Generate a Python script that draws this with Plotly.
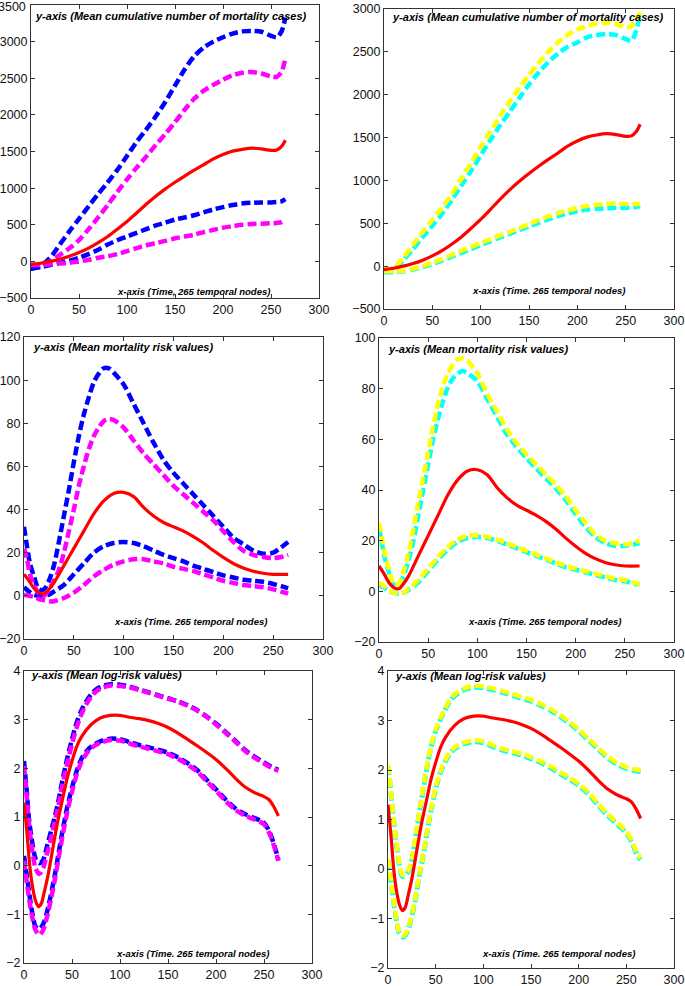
import plotly.graph_objects as go

W, H = 685, 986

# ---------------- data ----------------
# Panel row 1: mean cumulative number of mortality cases
t_cum = [0, 10, 20, 30, 40, 50, 60, 70, 80, 90, 100, 110, 120, 130, 140, 150, 160, 170, 180, 190,
         200, 210, 220, 230, 240, 250, 256, 261, 265]
red_cum = [-40, -25, 0, 30, 70, 120, 180, 255, 340, 440, 545, 660, 780, 890, 990, 1080, 1165, 1245, 1320,
           1400, 1460, 1505, 1530, 1545, 1535, 1515, 1520, 1570, 1655]
blue_up_cum = [-100, -60, 50, 230, 410, 580, 750, 920, 1080, 1250, 1440, 1630, 1800, 1980, 2180, 2400, 2620,
               2800, 2920, 3000, 3060, 3110, 3140, 3145, 3135, 3080, 3060, 3140, 3330]
pink_up_cum = [-50, -40, 0, 90, 180, 290, 440, 600, 770, 950, 1120, 1280, 1430, 1590, 1740, 1900, 2070, 2220,
               2330, 2410, 2480, 2540, 2575, 2585, 2565, 2525, 2520, 2590, 2770]
blue_lo_cum = [-100, -80, -50, -20, 10, 50, 100, 160, 230, 290, 340, 390, 440, 490, 530, 570, 600, 630, 670,
               710, 740, 770, 790, 800, 805, 805, 810, 820, 850]
pink_lo_cum = [-50, -50, -40, -30, -20, 0, 20, 50, 70, 100, 140, 180, 220, 250, 280, 315, 340, 365, 400, 430,
               460, 480, 500, 510, 515, 520, 525, 535, 565]
yel_up_cum = [-40, -20, 100, 250, 400, 540, 680, 840, 1020, 1200, 1390, 1570, 1750, 1920, 2080, 2230, 2370,
              2500, 2610, 2700, 2760, 2800, 2830, 2840, 2825, 2790, 2800, 2880, 2960]
cyan_up_cum = [-60, -40, 70, 200, 340, 470, 610, 770, 940, 1110, 1290, 1470, 1640, 1800, 1960, 2120, 2260,
               2380, 2480, 2560, 2610, 2670, 2695, 2705, 2695, 2650, 2630, 2750, 2950]
yel_lo_cum = [-60, -60, -55, -30, 0, 40, 85, 130, 180, 225, 270, 315, 360, 400, 445, 490, 540, 580, 620, 650,
              680, 700, 715, 725, 730, 725, 725, 725, 725]
cyan_lo_cum = [-70, -70, -60, -40, -10, 25, 65, 110, 155, 200, 245, 290, 335, 375, 420, 465, 505, 545, 585,
               615, 640, 660, 670, 675, 680, 680, 685, 690, 700]

# Panel row 2: mean mortality risk values
t_risk = [0, 5, 10, 15, 20, 25, 30, 40, 50, 60, 70, 80, 90, 100, 110, 120, 130, 140, 150, 160, 170, 180,
          190, 200, 210, 220, 230, 240, 250, 265]
red_risk = [10, 7, 3.5, 1.5, 1, 3, 6, 14, 22, 30, 38, 44, 47.5, 48, 46, 41, 37, 34, 32, 30, 27.5, 24.5, 21,
            17.8, 15, 12.9, 11.4, 10.5, 10, 10]
t_risk_up = [0, 3, 6, 10, 15, 20, 25, 30, 35, 40, 45, 50, 55, 60, 65, 70, 75, 80, 85, 90, 100, 110, 120,
             130, 140, 150, 160, 170, 180, 190, 200, 210, 220, 230, 240, 250, 258, 265]
blue_up_risk = [32, 23, 15, 9, 3, 3, 7, 14, 25, 37, 49, 62, 74, 84, 92, 99, 103, 105.5, 105.5, 103.5, 98,
                89, 80, 71, 63, 57, 52, 47, 42, 37, 32, 27, 24, 21, 19.5, 20, 22.5, 25]
pink_up_risk = [22, 17, 10, 5, 1, 0, 3, 7, 12, 20, 30, 40, 51, 60, 68, 74, 78, 81, 82, 81.5, 78, 72, 66,
                61, 56, 51, 47, 43, 39, 35, 30, 25, 21, 19, 18, 17.5, 18, 19]
yel_up_risk = [27, 21, 15, 9, 3, 3, 8, 15, 25, 35, 45, 55, 65, 74, 81, 86, 89.5, 91.5, 92, 91, 86, 78, 71,
               64, 58.5, 54, 50, 46, 42, 37.5, 32, 27, 22.5, 20, 19, 18.5, 19, 20]
cyan_up_risk = [25, 19, 13, 7.5, 2.5, 2.5, 6, 12, 20, 30, 40, 50, 60, 68, 75, 80.5, 84, 86, 87, 86, 83, 76,
                69, 62, 57, 52.5, 48.5, 44.5, 40.5, 36, 30.5, 25.5, 21.5, 19, 18, 18, 18.5, 19]
t_risk_lo = [0, 5, 10, 15, 20, 25, 30, 40, 50, 60, 70, 80, 90, 100, 110, 120, 130, 140, 150, 160, 170, 180,
             190, 200, 210, 220, 230, 240, 250, 258, 265]
blue_lo_risk = [4, 2, 0.5, 0, 0, 0.5, 2, 5, 10, 15, 20, 23, 24.5, 25, 24.5, 23, 21, 19, 17.5, 16, 14, 12.5,
                11, 9.5, 8.5, 7.5, 7, 6.5, 5.5, 4.5, 3.5]
pink_lo_risk = [0.5, 0, -0.5, -1.5, -2, -2.5, -2.5, -1, 1.5, 5, 9, 12, 14.5, 16, 17, 17, 16, 15, 13.5, 12.5,
                11.5, 10, 8.5, 7, 6, 5, 4.5, 4, 3, 2, 1]
yel_lo_risk = [3.5, 2, 0.5, -0.5, -1, -0.5, 1, 4.5, 9, 13.5, 17.5, 20.5, 22, 22, 21.5, 20.5, 19, 17.5, 16,
               14.5, 13, 11.5, 10, 9, 8, 7, 6, 5, 4.5, 3.5, 3]
cyan_lo_risk = [2.5, 1.5, 0, -0.5, -1, -0.5, 0.5, 3.5, 8, 12.5, 16.5, 19.5, 21, 21.5, 21, 20, 18.5, 17,
                15.5, 14, 12.5, 11, 9.5, 8.5, 7.5, 6.5, 5.5, 4.5, 4, 3.2, 2.8]

# Panel row 3: mean log-risk values
t_log = [0, 3, 6, 9, 12, 15, 18, 21, 25, 30, 35, 40, 45, 50, 55, 60, 70, 80, 90, 100, 110, 120, 130, 140,
         150, 160, 170, 180, 190, 200, 210, 220, 230, 240, 250, 255, 260, 265]
red_log = [1.3, 0.7, 0.0, -0.45, -0.72, -0.84, -0.78, -0.55, -0.2, 0.35, 0.9, 1.35, 1.8, 2.15, 2.45, 2.65,
           2.9, 3.04, 3.09, 3.09, 3.05, 3.02, 2.98, 2.92, 2.84, 2.73, 2.6, 2.47, 2.33, 2.18, 2.0, 1.8, 1.62,
           1.5, 1.42, 1.36, 1.22, 1.02]
t_log_up = [0, 3, 5, 8, 12, 16, 20, 24, 28, 32, 36, 40, 45, 50, 55, 60, 65, 70, 75, 80, 90, 100, 110, 120,
            130, 140, 150, 160, 170, 180, 190, 200, 210, 220, 230, 240, 250, 258, 265]
blue_up_log = [2.15, 1.5, 1.0, 0.55, 0.15, 0.05, 0.12, 0.4, 0.7, 1.0, 1.35, 1.75, 2.2, 2.6, 2.95, 3.2,
               3.38, 3.52, 3.62, 3.68, 3.73, 3.72, 3.68, 3.62, 3.56, 3.5, 3.44, 3.38, 3.3, 3.2, 3.07, 2.92,
               2.75, 2.57, 2.38, 2.24, 2.12, 2.03, 1.97]
pink_up_log = [2.05, 1.4, 0.9, 0.4, -0.05, -0.17, -0.05, 0.25, 0.55, 0.9, 1.25, 1.65, 2.1, 2.5, 2.85, 3.12,
               3.32, 3.47, 3.58, 3.64, 3.7, 3.69, 3.66, 3.61, 3.55, 3.49, 3.43, 3.37, 3.29, 3.19, 3.06, 2.9,
               2.73, 2.55, 2.36, 2.22, 2.1, 2.01, 1.95]
t_log_up6 = [0, 3, 6, 9, 12, 15, 18, 22, 26, 30, 34, 38, 42, 46, 50, 55, 60, 65, 70, 80, 90, 100, 110, 120,
             130, 140, 150, 160, 170, 180, 190, 200, 210, 220, 230, 240, 250, 258, 265]
yel_up_log = [2.1, 1.6, 1.0, 0.5, 0.1, -0.12, -0.1, 0.0, 0.3, 0.8, 1.3, 1.75, 2.2, 2.55, 2.82, 3.05, 3.25,
              3.42, 3.53, 3.65, 3.7, 3.69, 3.65, 3.6, 3.54, 3.48, 3.42, 3.34, 3.24, 3.12, 2.98, 2.82, 2.64,
              2.46, 2.28, 2.15, 2.06, 2.02, 2.0]
cyan_up_log = [2.08, 1.57, 0.97, 0.47, 0.07, -0.15, -0.13, -0.03, 0.27, 0.77, 1.27, 1.72, 2.17, 2.52, 2.79,
               3.02, 3.22, 3.39, 3.5, 3.62, 3.67, 3.66, 3.62, 3.57, 3.51, 3.45, 3.39, 3.31, 3.21, 3.09, 2.95,
               2.79, 2.61, 2.43, 2.25, 2.12, 2.03, 1.99, 1.97]
t_log_lo = [0, 4, 8, 12, 16, 20, 24, 28, 32, 36, 40, 45, 50, 55, 60, 65, 70, 80, 90, 100, 110, 120, 130,
            140, 150, 160, 170, 180, 190, 200, 210, 220, 230, 240, 250, 256, 261, 265]
blue_lo_log = [0.2, -0.35, -0.9, -1.25, -1.3, -1.2, -0.95, -0.6, -0.2, 0.25, 0.7, 1.2, 1.6, 1.95, 2.2, 2.35,
               2.45, 2.56, 2.61, 2.6, 2.54, 2.48, 2.43, 2.38, 2.32, 2.23, 2.11, 1.97, 1.77, 1.57, 1.36, 1.18,
               1.06, 0.98, 0.88, 0.68, 0.4, 0.12]
pink_lo_log = [0.1, -0.5, -1.0, -1.32, -1.42, -1.32, -1.05, -0.7, -0.3, 0.15, 0.6, 1.1, 1.52, 1.88, 2.14,
               2.3, 2.42, 2.53, 2.58, 2.57, 2.51, 2.45, 2.4, 2.35, 2.29, 2.2, 2.08, 1.94, 1.74, 1.54, 1.33,
               1.15, 1.03, 0.95, 0.85, 0.65, 0.37, 0.1]
yel_lo_log = [0.2, -0.35, -0.9, -1.28, -1.35, -1.25, -1.0, -0.65, -0.2, 0.2, 0.65, 1.2, 1.65, 1.98, 2.2,
              2.36, 2.46, 2.56, 2.6, 2.58, 2.5, 2.43, 2.38, 2.33, 2.26, 2.18, 2.08, 1.96, 1.85, 1.72, 1.55,
              1.33, 1.12, 0.94, 0.76, 0.56, 0.33, 0.22]
cyan_lo_log = [0.17, -0.38, -0.93, -1.31, -1.38, -1.28, -1.03, -0.68, -0.23, 0.17, 0.62, 1.17, 1.62, 1.95,
               2.17, 2.33, 2.43, 2.53, 2.57, 2.55, 2.47, 2.4, 2.35, 2.3, 2.23, 2.15, 2.05, 1.93, 1.82, 1.69,
               1.52, 1.3, 1.09, 0.91, 0.73, 0.53, 0.3, 0.19]

# tick labels
x_ticks = [0, 50, 100, 150, 200, 250, 300]
y_ticks_cum1 = [-500, 0, 500, 1000, 1500, 2000, 2500, 3000, 3500]
y_ticks_cum2 = [-500, 0, 500, 1000, 1500, 2000, 2500, 3000]
y_ticks_risk1 = [-20, 0, 20, 40, 60, 80, 100, 120]
y_ticks_risk2 = [-20, 0, 20, 40, 60, 80, 100]
y_ticks_log = [-2, -1, 0, 1, 2, 3, 4]

ylab_cum = "y-axis (Mean cumulative number of mortality cases)"
ylab_risk = "y-axis (Mean mortality risk values)"
ylab_log = "y-axis (Mean log-risk values)"
xlab_comma = "x-axis (Time, 265 temporal nodes)"
xlab_dot = "x-axis (Time. 265 temporal nodes)"

# ---------------- figure ----------------
BLUE, PINK, RED, YEL, CYAN = "#0000FF", "#FF00FF", "#FF0000", "#FFFF00", "#00FFFF"
DASH = "9px,4px"
FONT = "Liberation Sans, Arial, sans-serif"

fig = go.Figure()


def fmt(v):
    return str(v).replace("-", "\u2212")


def add_line(idx, x, y, color, dashed=True, width=4.5):
    fig.add_trace(go.Scatter(
        x=x, y=y, mode="lines", xaxis="x" if idx == 1 else f"x{idx}",
        yaxis="y" if idx == 1 else f"y{idx}", showlegend=False, hoverinfo="skip",
        line=dict(color=color, width=width, dash=DASH if dashed else "solid",
                  shape="spline", smoothing=0.8)))


# panel geometry (pixels): left, right, top, bottom
panels = [
    dict(box=(31, 319, 5, 298), yt=y_ticks_cum1, ylab=ylab_cum, xlab=xlab_comma,
         ylab_pos=(33, 16), xlab_pos=(193, 291), top_label_as_text=True),
    dict(box=(384, 674, 9, 309), yt=y_ticks_cum2, ylab=ylab_cum, xlab=xlab_dot,
         ylab_pos=(390, 17), xlab_pos=(548, 290), top_label_as_text=False),
    dict(box=(24, 323, 337, 639), yt=y_ticks_risk1, ylab=ylab_risk, xlab=xlab_dot,
         ylab_pos=(31, 347), xlab_pos=(190, 621), top_label_as_text=False),
    dict(box=(379, 674, 338, 642), yt=y_ticks_risk2, ylab=ylab_risk, xlab=xlab_dot,
         ylab_pos=(386, 349), xlab_pos=(544, 621), top_label_as_text=False),
    dict(box=(24, 312, 671, 963), yt=y_ticks_log, ylab=ylab_log, xlab=xlab_dot,
         ylab_pos=(29, 675), xlab_pos=(192, 953), top_label_as_text=False),
    dict(box=(388, 674, 671, 968), yt=y_ticks_log, ylab=ylab_log, xlab=xlab_dot,
         ylab_pos=(393, 676), xlab_pos=(558, 953), top_label_as_text=False),
]

# panel 1
add_line(1, t_cum, blue_up_cum, BLUE)
add_line(1, t_cum, blue_lo_cum, BLUE)
add_line(1, t_cum, pink_up_cum, PINK)
add_line(1, t_cum, pink_lo_cum, PINK)
add_line(1, t_cum, red_cum, RED, dashed=False, width=3.2)
# panel 2
add_line(2, t_cum, cyan_up_cum, CYAN)
add_line(2, t_cum, cyan_lo_cum, CYAN)
add_line(2, t_cum, yel_up_cum, YEL)
add_line(2, t_cum, yel_lo_cum, YEL)
add_line(2, t_cum, red_cum, RED, dashed=False, width=3.2)
# panel 3
add_line(3, t_risk_up, blue_up_risk, BLUE)
add_line(3, t_risk_lo, blue_lo_risk, BLUE)
add_line(3, t_risk_up, pink_up_risk, PINK)
add_line(3, t_risk_lo, pink_lo_risk, PINK)
add_line(3, t_risk, red_risk, RED, dashed=False, width=3.2)
# panel 4
add_line(4, t_risk_up, cyan_up_risk, CYAN)
add_line(4, t_risk_lo, cyan_lo_risk, CYAN)
add_line(4, t_risk_up, yel_up_risk, YEL)
add_line(4, t_risk_lo, yel_lo_risk, YEL)
add_line(4, t_risk, red_risk, RED, dashed=False, width=3.2)
# panel 5
add_line(5, t_log_up, blue_up_log, BLUE)
add_line(5, t_log_lo, blue_lo_log, BLUE)
add_line(5, t_log_up, pink_up_log, PINK)
add_line(5, t_log_lo, pink_lo_log, PINK)
add_line(5, t_log, red_log, RED, dashed=False, width=3.2)
# panel 6
add_line(6, t_log_up6, cyan_up_log, CYAN, width=5)
add_line(6, t_log_lo, cyan_lo_log, CYAN, width=5)
add_line(6, t_log_up6, yel_up_log, YEL)
add_line(6, t_log_lo, yel_lo_log, YEL)
add_line(6, t_log, red_log, RED, dashed=False, width=3.2)

layout = dict(width=W, height=H, autosize=False, margin=dict(l=0, r=0, t=0, b=0, pad=0),
              paper_bgcolor="white", plot_bgcolor="white", showlegend=False,
              font=dict(family=FONT, color="black", size=12))
annotations = []
axis_common = dict(showline=True, linecolor="#333333", linewidth=1, mirror="ticks",
                   ticks="inside", ticklen=4, tickcolor="#333333", showgrid=False,
                   zeroline=False, automargin=False, ticklabeloverflow="allow",
                   tickfont=dict(family=FONT, size=12.5, color="#111111"))
for i, p in enumerate(panels, start=1):
    l, r, t, b = p["box"]
    xk = "xaxis" if i == 1 else f"xaxis{i}"
    yk = "yaxis" if i == 1 else f"yaxis{i}"
    yt = p["yt"]
    ytext = [fmt(v) for v in yt]
    if p["top_label_as_text"]:
        # the top tick label sits at the very top edge of the page: draw it as text
        annotations.append(dict(text=ytext[-1], xref="paper", yref="paper",
                                x=28 / W, y=1 - 7 / H, xanchor="right", yanchor="middle",
                                showarrow=False,
                                font=dict(family=FONT, size=12.5, color="#111111")))
        ytext[-1] = ""
    layout[xk] = dict(axis_common, domain=[l / W, r / W], range=[0, 300],
                      anchor="y" if i == 1 else f"y{i}", tickmode="array",
                      tickvals=x_ticks, ticktext=[fmt(v) for v in x_ticks])
    layout[yk] = dict(axis_common, domain=[1 - b / H, 1 - t / H], range=[yt[0], yt[-1]],
                      anchor="x" if i == 1 else f"x{i}", tickmode="array",
                      tickvals=yt, ticktext=ytext)
    annotations.append(dict(text=p["ylab"], xref="paper", yref="paper",
                            x=p["ylab_pos"][0] / W, y=1 - p["ylab_pos"][1] / H,
                            xanchor="left", yanchor="middle", showarrow=False,
                            font=dict(family=FONT, size=11, color="black",
                                      weight="bold", style="italic")))
    annotations.append(dict(text=p["xlab"], xref="paper", yref="paper",
                            x=p["xlab_pos"][0] / W, y=1 - p["xlab_pos"][1] / H,
                            xanchor="center", yanchor="middle", showarrow=False,
                            font=dict(family=FONT, size=9.5, color="black",
                                      weight="bold", style="italic")))
layout["annotations"] = annotations
fig.update_layout(**layout)
fig.write_html("out.html", config={"displayModeBar": False},
               post_script="document.body.style.margin='0';document.body.style.overflow='hidden';")
